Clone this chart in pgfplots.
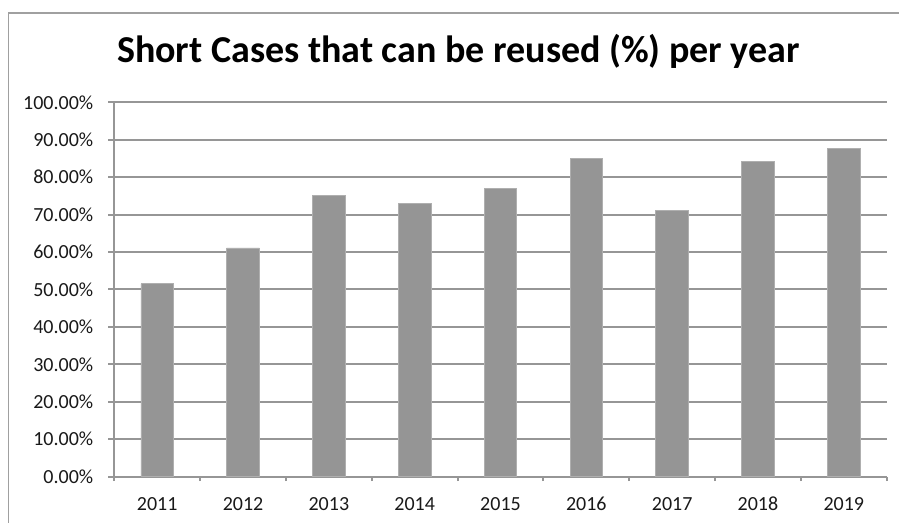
\documentclass[border=0pt]{standalone}
\usepackage{pgfplots}
\pgfplotsset{compat=1.18}
\usepackage{fontspec}
\setmainfont{Carlito}

\definecolor{barfill}{RGB}{149,149,149}
\definecolor{baredge}{RGB}{175,175,175}
\definecolor{gridgray}{RGB}{150,150,150}
\definecolor{framegray}{RGB}{160,160,160}

\begin{document}
\begin{tikzpicture}[x=0.5pt,y=0.5pt]
  \path[use as bounding box] (0,0) rectangle (899,523);
  % outer chart frame
  \draw[framegray, line width=0.8pt] (8.3,0) -- (8.3,509.7) -- (899,509.7);
  % title
  \node[anchor=base, font=\bfseries\fontsize{19}{22}\selectfont, inner sep=0pt]
    at (458.4,460) {Short Cases that can be reused (\%) per year};
  \begin{axis}[
    at={(57.15pt,23.15pt)}, anchor=south west,
    scale only axis, width=386.2pt, height=187.2pt,
    ybar, bar width=16.3pt,
    xmin=0.5, xmax=9.5, ymin=0, ymax=100,
    xtick={1,...,9},
    xticklabels={2011,2012,2013,2014,2015,2016,2017,2018,2019},
    minor xtick={0.5,1.5,...,9.5},
    major x tick style={draw=none},
    minor x tick style={gridgray, line width=1pt},
    xtick pos=bottom,
    ytick={0,10,...,100},
    ytick pos=left,
    tick align=outside,
    major tick length=3pt,
    minor tick length=2.2pt,
    y tick style={gridgray, line width=1pt},
    ymajorgrids,
    grid style={gridgray, line width=1pt},
    axis line style={gridgray, line width=1pt},
    axis x line*=bottom, axis y line*=left,
    yticklabel={\pgfmathprintnumber[fixed,fixed zerofill,precision=2]{\tick}\%},
    /pgf/number format/assume math mode=true,
    tick label style={font=\fontsize{10}{12}\selectfont, text=black!90},
    xticklabel style={yshift=-3.5pt, text height=7pt, text depth=0pt},
    yticklabel style={xshift=-4pt},
  ]
    \addplot[fill=barfill, draw=baredge, line width=0.4pt]
      coordinates {(1,51.5) (2,61.1) (3,75.2) (4,73.0) (5,77.0)
                   (6,84.9) (7,71.2) (8,84.3) (9,87.7)};
  \end{axis}
\end{tikzpicture}
\end{document}
